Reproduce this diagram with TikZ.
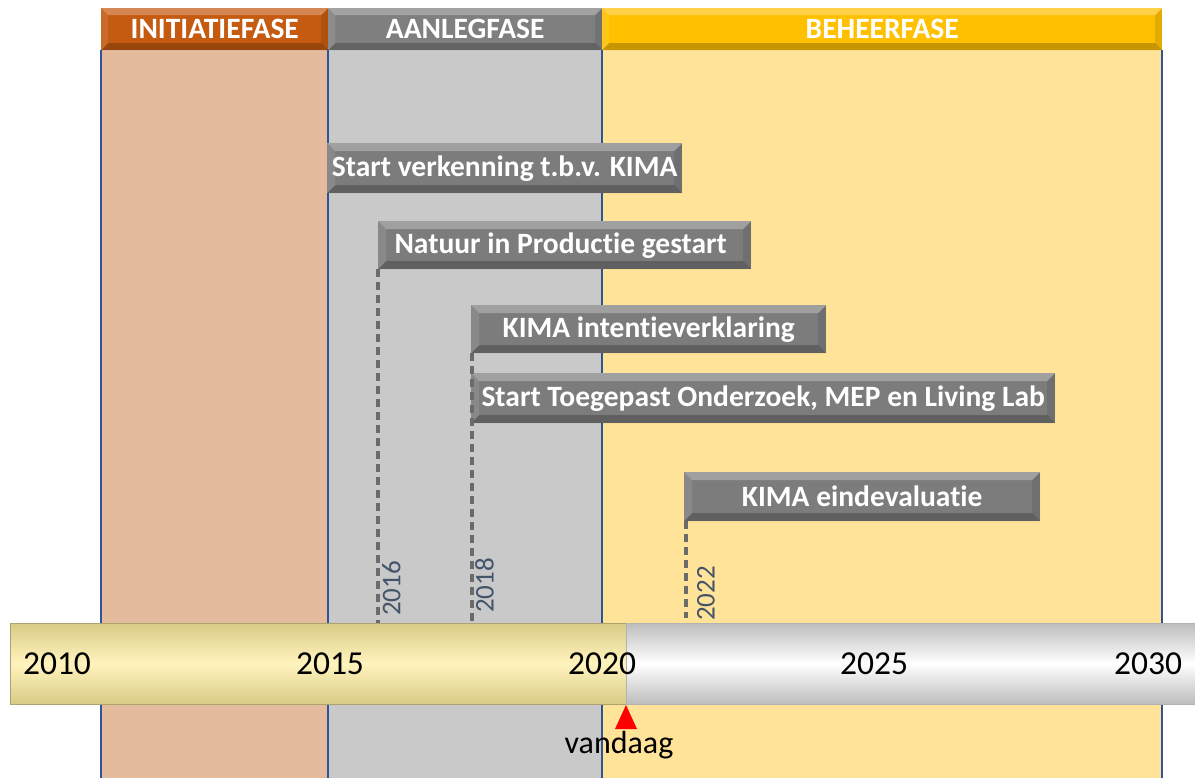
\documentclass[tikz,border=0pt]{standalone}
\usepackage{fontspec}
\setmainfont{Carlito}[Ligatures=NoCommon]
\usetikzlibrary{calc}

\definecolor{initfill}{HTML}{E5BB9D}
\definecolor{aanfill}{HTML}{C9C9C9}
\definecolor{behfill}{HTML}{FFE399}
\definecolor{inithead}{HTML}{C55A11}
\definecolor{aanhead}{HTML}{7F7F7F}
\definecolor{behhead}{HTML}{FFC000}
\definecolor{colline}{HTML}{2F5597}
\definecolor{evgray}{HTML}{7C7C7C}
\definecolor{yeartxt}{HTML}{44546A}
\definecolor{goldedge}{HTML}{D8CA86}
\definecolor{goldmid}{HTML}{FFF4BE}
\definecolor{silveredge}{HTML}{BDBDBD}

\tikzset{
  bevel/.style={path picture={
    \coordinate (bvSW) at (path picture bounding box.south west);
    \coordinate (bvNE) at (path picture bounding box.north east);
    \coordinate (bvNW) at (bvSW |- bvNE);
    \coordinate (bvSE) at (bvNE |- bvSW);
    \fill[white,opacity=.28] (bvNW) -- (bvNE) -- ($(bvNE)+(-#1,#1)$) -- ($(bvNW)+(#1,#1)$) -- cycle;
    \fill[black,opacity=.22] (bvSW) -- (bvSE) -- ($(bvSE)+(-#1,-#1)$) -- ($(bvSW)+(#1,-#1)$) -- cycle;
    \fill[white,opacity=.10] (bvNW) -- (bvSW) -- ($(bvSW)+(#1,-#1)$) -- ($(bvNW)+(#1,#1)$) -- cycle;
    \fill[black,opacity=.10] (bvNE) -- (bvSE) -- ($(bvSE)+(-#1,-#1)$) -- ($(bvNE)+(-#1,#1)$) -- cycle;
  }},
  header/.style={anchor=north west, inner sep=0pt, minimum height=42pt,
    text=white, font=\fontsize{29.5}{34}\selectfont\bfseries, bevel=7},
  event/.style={anchor=north west, inner sep=0pt, fill=evgray,
    text=white, font=\fontsize{29.5}{34}\selectfont\bfseries, bevel=8},
  colborder/.style={draw=colline, line width=1.6pt},
  yearlink/.style={draw=black!58, line width=3.4pt, dash pattern=on 8pt off 5pt},
  yeartag/.style={rotate=90, anchor=north west, inner sep=0pt, text=yeartxt,
    font=\fontsize{27}{32}\selectfont},
  axisyear/.style={inner sep=0pt, font=\fontsize{33.5}{38}\selectfont},
}

\begin{document}
\begin{tikzpicture}[x=1pt,y=-1pt]
\useasboundingbox (0,0) rectangle (1195,778);

% phase columns
\fill[initfill] (101,50) rectangle (328,778);
\fill[aanfill]  (328,50) rectangle (602,778);
\fill[behfill]  (602,50) rectangle (1162,778);
\foreach \xc in {101,328,602,1162}
  \draw[colborder] (\xc,50) -- (\xc,778);

% phase headers
\node[header, fill=inithead, minimum width=227pt] (hInit) at (101,8) {INITIATIEFASE};
\node[header, fill=aanhead,  minimum width=274pt] (hAan)  at (328,8) {AANLEGFASE};
\node[header, fill=behhead,  minimum width=560pt] (hBeh)  at (602,8) {BEHEERFASE};

% time axis
\shade[top color=goldedge, bottom color=goldedge, middle color=goldmid]
  (10,623) rectangle (626,704);
\shade[top color=silveredge, bottom color=silveredge, middle color=white]
  (626,623) rectangle (1195,704);
\draw[goldedge!80!black, line width=0.8pt] (10,704) -- (10,623) -- (626,623);
\draw[goldedge!80!black, line width=0.8pt] (10,704) -- (626,704);
\draw[black!30, line width=0.8pt] (626,623) -- (1195,623) (626,704) -- (1195,704) (626,623) -- (626,704);
\node[minimum width=1185pt, minimum height=81pt, inner sep=0pt, anchor=north west] (bar) at (10,623) {};

\node[axisyear] (y2010) at (57,664) {2010};
\node[axisyear] (y2015) at (330,664) {2015};
\node[axisyear] (y2020) at (602,664) {2020};
\node[axisyear] (y2025) at (874,664) {2025};
\node[axisyear] (y2030) at (1148,664) {2030};

% today marker
\fill[red] (626,705) -- (637,729) -- (615,729) -- cycle;
\coordinate (today) at (626,705);
\node[font=\fontsize{32}{38}\selectfont, inner sep=0pt] (vandaag) at (619,745) {vandaag};

% milestones
\node[event, minimum width=355pt, minimum height=50pt] (e1) at (327,143) {Start verkenning t.b.v. KIMA};
\node[event, minimum width=373pt, minimum height=48pt] (e2) at (378,221) {\hspace*{-8pt}Natuur in Productie gestart};
\node[event, minimum width=355pt, minimum height=48pt] (e3) at (471,305) {KIMA intentieverklaring};
\node[event, minimum width=584pt, minimum height=50pt] (e4) at (471,373) {Start Toegepast Onderzoek, MEP en Living Lab};
\node[event, minimum width=356pt, minimum height=49pt] (e5) at (684,472) {KIMA eindevaluatie};

% year links from milestones down to the axis
\draw[yearlink] ([xshift=0pt]e2.south west) -- ([xshift=0pt]e2.south west |- bar.north);
\draw[yearlink] ([xshift=1pt]e3.south west) -- ([xshift=1pt]e3.south west |- bar.north);
\draw[yearlink] ([xshift=2pt]e5.south west) -- ([xshift=2pt,yshift=5pt]e5.south west |- bar.north);

\node[yeartag] (t2016) at (382,616) {2016};
\node[yeartag] (t2018) at (475,613) {2018};
\node[yeartag] (t2022) at (697,621) {2022};
\end{tikzpicture}
\end{document}
